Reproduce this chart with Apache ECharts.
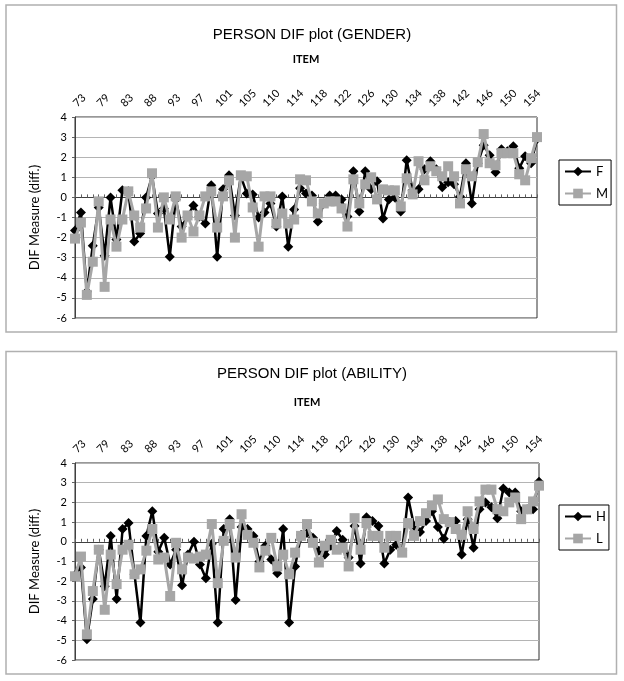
<!DOCTYPE html>
<html>
<head>
<meta charset="utf-8">
<script src="https://cdn.jsdelivr.net/npm/echarts@6/dist/echarts.min.js"></script>
<style>
html,body{margin:0;padding:0;background:#fff;}
#chart{width:624px;height:681px;}
</style>
</head>
<body>
<div id="chart"></div>
<script>
// Item categories (x axis)
const items = [73,74,75,76,79,80,81,82,83,84,85,86,88,89,90,91,93,94,95,96,97,98,99,100,101,102,103,104,105,106,107,108,110,111,112,113,114,115,116,117,118,119,120,121,122,123,124,125,126,127,128,129,130,131,132,133,134,135,136,137,138,139,140,141,142,143,144,145,146,147,148,149,150,151,152,153,154,155,156];

// GENDER panel
const seriesF = [-1.65,-0.75,-4.7,-2.4,-0.5,-2.9,0.0,-2.1,0.35,0.3,
 -2.2,-1.8,0.0,1.05,-0.8,-0.55,-2.95,-0.1,-1.45,-0.95,
 -0.4,-0.95,-1.3,0.6,-2.95,0.4,1.1,-0.9,1.05,0.2,
 0.15,-1.0,-0.75,-0.3,-1.45,0.05,-2.45,-0.6,0.45,0.2,
 0.1,-1.2,-0.3,0.1,0.1,-0.1,-0.95,1.3,-0.7,1.3,
 0.4,0.8,-1.05,-0.1,0.0,-0.7,1.85,0.35,0.4,1.4,
 1.8,1.4,0.5,0.75,0.65,0.05,1.7,-0.3,1.7,2.6,
 2.1,1.25,2.4,2.3,2.55,1.45,2.05,1.7,2.9];
const seriesM = [-2.05,-1.25,-4.85,-3.2,-0.2,-4.45,-1.1,-2.45,-1.1,0.3,
 -0.9,-1.5,-0.55,1.2,-1.5,0.0,-1.1,0.05,-2.0,-0.9,
 -1.7,-0.9,0.05,0.3,-1.5,0.05,0.85,-2.0,1.1,1.05,
 -0.5,-2.45,0.05,0.05,-1.3,-0.8,-1.3,-1.1,0.9,0.85,
 -0.2,-0.8,-0.3,-0.2,-0.2,-0.55,-1.45,0.9,-0.3,0.65,
 1.0,-0.1,0.4,0.35,0.35,-0.45,0.95,0.15,1.8,0.85,
 1.55,1.3,1.05,1.55,1.05,-0.3,1.4,1.05,1.75,3.15,
 1.7,1.6,2.2,2.2,2.2,1.15,0.85,1.95,3.0];

// ABILITY panel
const seriesH = [-1.7,-1.3,-4.95,-2.9,-0.4,-2.25,0.3,-2.9,0.65,0.95,
 -1.65,-4.1,0.3,1.55,-0.5,0.2,-1.15,-0.4,-2.2,-0.65,
 0.0,-1.15,-1.85,-0.1,-4.1,0.65,1.15,-2.95,0.75,0.65,
 0.3,-1.0,-0.2,-0.9,-1.6,0.65,-4.1,-1.25,0.35,0.45,
 0.2,-0.45,-0.65,-0.2,0.55,0.1,-0.8,0.8,-1.1,1.25,
 1.05,0.8,-1.1,-0.4,-0.15,-0.45,2.25,0.8,0.5,1.05,
 1.55,0.75,0.15,1.0,1.05,-0.65,1.15,-0.3,1.65,2.0,
 1.75,1.2,2.7,2.5,2.5,1.55,1.65,1.65,3.05];
const seriesL = [-1.75,-0.75,-4.7,-2.5,-0.4,-3.45,-0.65,-2.15,-0.4,-0.15,
 -1.65,-1.4,-0.45,0.65,-0.9,-0.8,-2.75,-0.05,-1.4,-0.8,
 -0.85,-0.75,-0.65,0.9,-2.1,0.05,0.9,-0.8,1.4,0.35,
 -0.05,-1.3,-0.45,0.2,-1.25,-0.65,-1.65,-0.55,0.3,0.9,
 -0.05,-1.05,-0.2,0.1,-0.4,-0.3,-1.25,1.2,-0.4,0.95,
 0.3,0.3,-0.3,0.3,0.3,-0.55,0.95,0.3,1.05,1.45,
 1.85,2.15,1.15,1.0,0.65,0.35,1.55,0.65,2.05,2.65,
 2.65,1.65,1.55,2.0,2.25,1.15,1.65,2.05,2.85];

const yMin = -6, yMax = 4, yStep = 1;
const labelFont = 'Lato, "Open Sans", sans-serif';
const titleFont = '"Liberation Sans", Arial, sans-serif';

function xAxisFor(gi) {
  return {
    type: 'category', gridIndex: gi, position: 'top', data: items, boundaryGap: false,
    name: 'ITEM', nameLocation: 'middle', nameGap: gi === 0 ? 52 : 55,
    nameTextStyle: {fontFamily: labelFont, fontWeight: 'bold', fontSize: 11, color: '#000'},
    axisLine: {show: true, lineStyle: {color: '#404040', width: 1}},
    axisTick: {show: true, interval: 0, length: 3, inside: false, lineStyle: {color: '#606060'}},
    axisLabel: {interval: 3, rotate: 45, fontFamily: labelFont, fontSize: 11, color: '#000', margin: 12},
    splitLine: {show: false}
  };
}
function yAxisFor(gi) {
  return {
    type: 'value', gridIndex: gi, min: yMin, max: yMax, interval: yStep,
    name: 'DIF Measure (diff.)', nameLocation: 'middle', nameGap: 34, nameRotate: 90,
    nameTextStyle: {fontFamily: labelFont, fontSize: 13, color: '#000'},
    axisLine: {show: true, lineStyle: {color: '#404040', width: 1}},
    axisTick: {show: true, length: 3, lineStyle: {color: '#606060'}},
    axisLabel: {fontFamily: labelFont, fontSize: 11, color: '#000', margin: 8},
    splitLine: {show: true, lineStyle: {color: '#b4b4b4', width: 1}}
  };
}
function blackSeries(name, data, gi) {
  return {name, type: 'line', xAxisIndex: gi, yAxisIndex: gi, data,
    symbol: 'diamond', symbolSize: 10, showAllSymbol: true,
    lineStyle: {color: '#000', width: 2.5}, itemStyle: {color: '#000'},
    emphasis: {disabled: true}, animation: false, z: 2};
}
function graySeries(name, data, gi) {
  return {name, type: 'line', xAxisIndex: gi, yAxisIndex: gi, data,
    symbol: 'rect', symbolSize: 10, showAllSymbol: true,
    lineStyle: {color: '#a6a6a6', width: 3}, itemStyle: {color: '#a6a6a6'},
    emphasis: {disabled: true}, animation: false, z: 3};
}
function legendFor(names, top) {
  return {
    data: names.map(n => ({name: n})), orient: 'vertical', left: 559, top: top,
    itemWidth: 26, itemHeight: 12, itemGap: 9,
    padding: [5, 3, 5, 5], borderColor: '#000', borderWidth: 1,
    textStyle: {fontFamily: labelFont, fontSize: 13, color: '#000'},
    selectedMode: false
  };
}

const chart = echarts.init(document.getElementById('chart'), null, {renderer: 'canvas'});
chart.setOption({
  backgroundColor: '#fff',
  animation: false,
  graphic: [
    {type: 'rect', shape: {x: 6, y: 5, width: 610.5, height: 327}, style: {fill: 'none', stroke: '#b0b0b0', lineWidth: 1.5}, silent: true},
    {type: 'rect', shape: {x: 6, y: 351.5, width: 610.5, height: 322.5}, style: {fill: 'none', stroke: '#b0b0b0', lineWidth: 1.5}, silent: true}
  ],
  title: [
    {text: 'PERSON DIF plot (GENDER)', left: 'center', top: 22, textStyle: {fontFamily: titleFont, fontSize: 15, fontWeight: 'normal', color: '#000'}},
    {text: 'PERSON DIF plot (ABILITY)', left: 'center', top: 361, textStyle: {fontFamily: titleFont, fontSize: 15, fontWeight: 'normal', color: '#000'}}
  ],
  legend: [legendFor(['F', 'M'], 160), legendFor(['H', 'L'], 505)],
  grid: [
    {left: 75, top: 117, width: 462, height: 201, show: true, borderColor: '#303030', borderWidth: 1, backgroundColor: 'transparent'},
    {left: 75, top: 463, width: 464, height: 197, show: true, borderColor: '#303030', borderWidth: 1, backgroundColor: 'transparent'}
  ],
  xAxis: [xAxisFor(0), xAxisFor(1)],
  yAxis: [yAxisFor(0), yAxisFor(1)],
  series: [
    blackSeries('F', seriesF, 0), graySeries('M', seriesM, 0),
    blackSeries('H', seriesH, 1), graySeries('L', seriesL, 1)
  ]
});
</script>
</body>
</html>
